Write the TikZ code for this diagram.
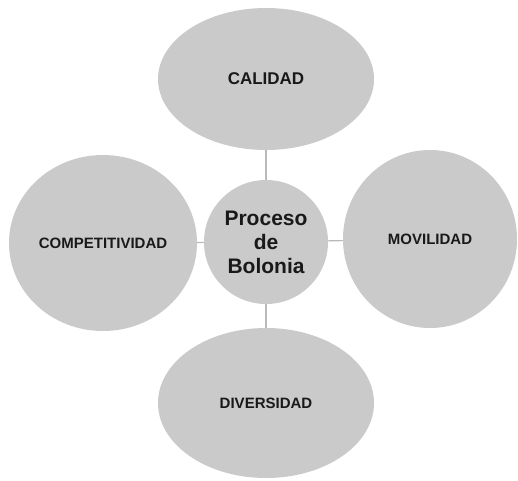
\documentclass[tikz,border=0pt]{standalone}
\usepackage{fontspec}
\setmainfont{Liberation Sans}
\usetikzlibrary{shapes.geometric}
\definecolor{bubble}{RGB}{202,202,202}
\definecolor{link}{RGB}{185,185,185}
\definecolor{ink}{RGB}{25,25,25}
\begin{document}
\begin{tikzpicture}[x=1pt,y=-1pt,
  bubblenode/.style={ellipse,fill=bubble,draw=none,inner sep=0pt,text=ink,font=\bfseries\fontsize{15}{17}\selectfont},
  linkline/.style={draw=link,line width=1.2pt}]
\fill[white] (0,0) rectangle (518,480);
\useasboundingbox (0,0) rectangle (518,480);
\node[bubblenode,minimum width=216pt,minimum height=142pt,font=\bfseries\fontsize{17}{19}\selectfont] (cal) at (266,79) {CALIDAD};
\node[bubblenode,minimum width=216pt,minimum height=150pt] (div) at (266,403) {DIVERSIDAD};
\node[bubblenode,minimum width=188pt,minimum height=176pt] (comp) at (103,243) {COMPETITIVIDAD};
\node[bubblenode,minimum width=174pt,minimum height=178pt] (mov) at (430,239) {MOVILIDAD};
\node[bubblenode,minimum width=124pt,minimum height=124pt,align=center,font=\bfseries\fontsize{21}{24}\selectfont] (cen) at (266,242) {Proceso\\de\\Bolonia};
\draw[linkline] (cal) -- (cen);
\draw[linkline] (cen) -- (div);
\draw[linkline] (comp) -- (cen);
\draw[linkline] (cen) -- (mov);
\end{tikzpicture}
\end{document}
